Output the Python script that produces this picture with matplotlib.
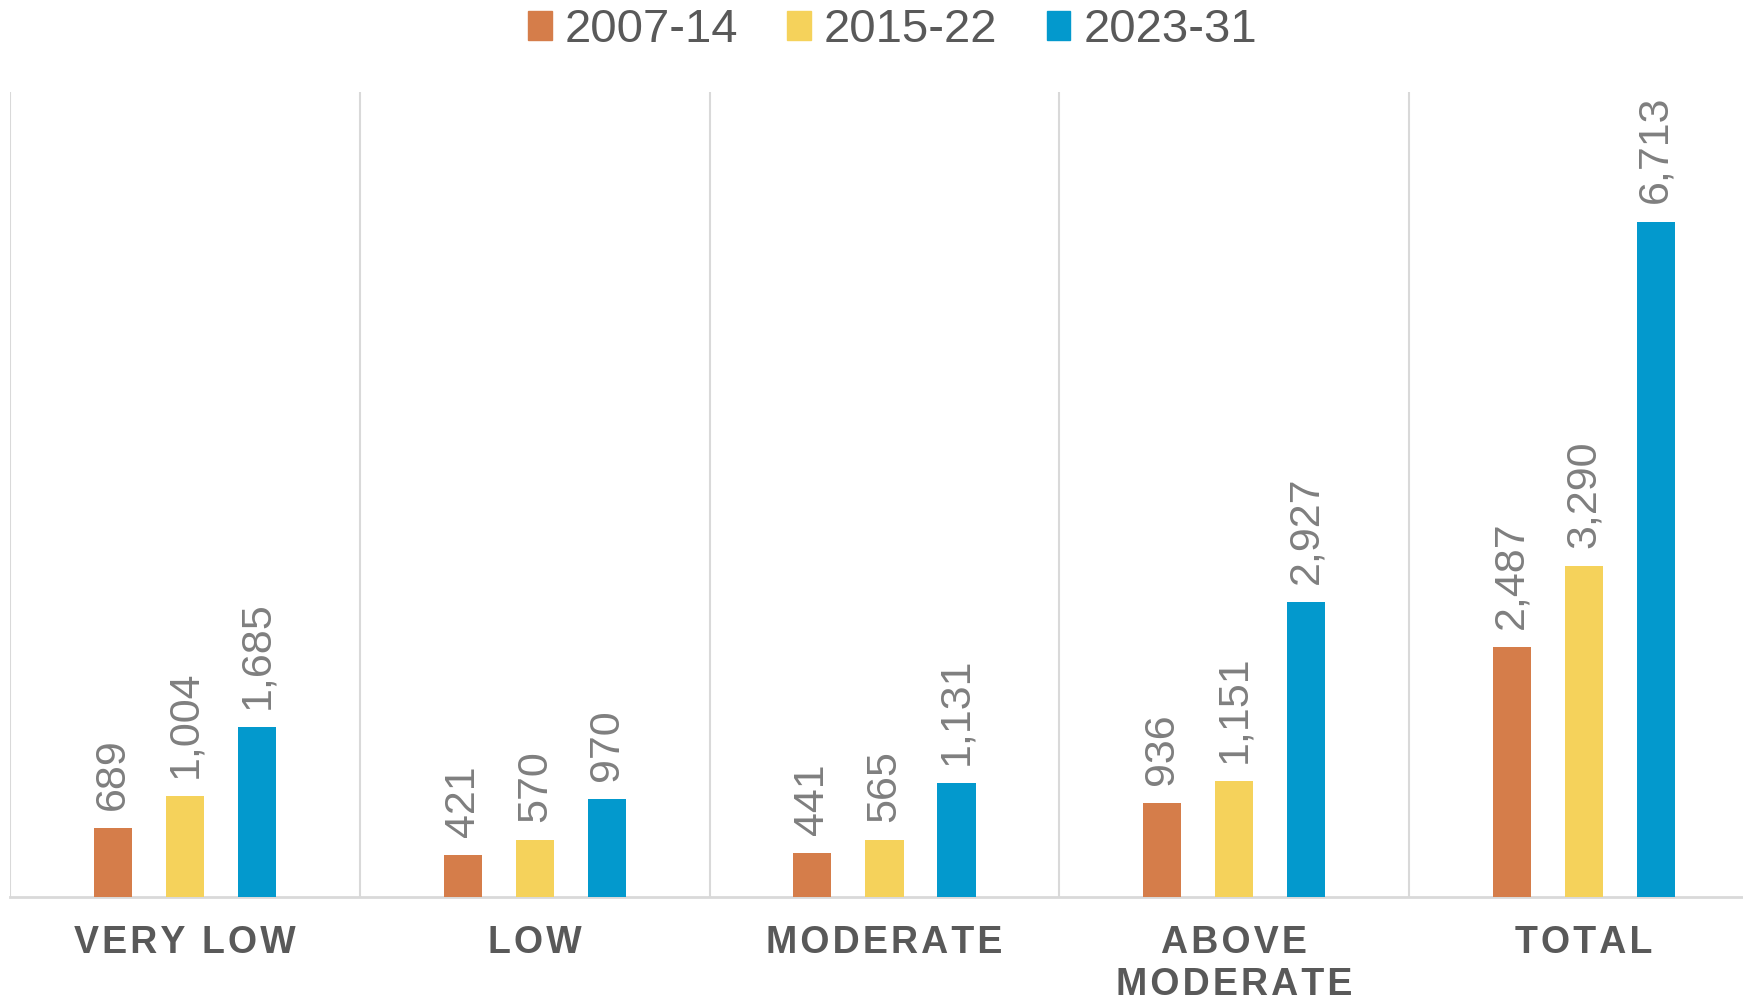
import numpy as np
import matplotlib.pyplot as plt
from matplotlib.patches import Patch

categories = ["VERY LOW", "LOW", "MODERATE", "ABOVE\nMODERATE", "TOTAL"]
series = ["2007-14", "2015-22", "2023-31"]
v_0714 = [689, 421, 441, 936, 2487]
v_1522 = [1004, 570, 565, 1151, 3290]
v_2331 = [1685, 970, 1131, 2927, 6713]

colors = ["#D57D4A", "#F5D25B", "#0399CD"]
grid_col = "#D9D9D9"
txt_col = "#595959"
lab_col = "#7F7F7F"

plt.rcParams['font.family'] = ['Liberation Sans', 'DejaVu Sans']

fig = plt.figure(figsize=(17.43, 10.02), dpi=100)
ax = fig.add_axes([10.3/1743, 105/1002, 1748.3/1743, 805/1002])

x = np.arange(len(categories))
w = 0.109
step = 0.206
for k, (vals, col) in enumerate(zip([v_0714, v_1522, v_2331], colors)):
    xs = x + (k - 1)*step
    ax.bar(xs, vals, width=w, color=col, zorder=3)
    for xi, v in zip(xs, vals):
        ax.annotate(f"{v:,}", (xi, v), xytext=(0, 13), textcoords="offset points",
                    rotation=90, ha="center", va="bottom", fontsize=31, color=lab_col)

ax.set_xlim(-0.5, len(categories) - 0.5)
ax.set_ylim(0, 8000)
for b in np.arange(-0.5, len(categories) - 0.5):
    ax.axvline(b, color=grid_col, lw=1.5, zorder=1)

for s in ["top", "right", "left"]:
    ax.spines[s].set_visible(False)
ax.spines["bottom"].set_color(grid_col)
ax.spines["bottom"].set_linewidth(2)
ax.set_yticks([])

# letter-spaced category labels
def spaced(s):
    return "\n".join("\u200a".join(line) for line in s.split("\n"))

ax.set_xticks(x)
ax.set_xticklabels([spaced(c) for c in categories], fontsize=27, fontweight="bold",
                   color=txt_col, linespacing=1.22)
ax.tick_params(axis="x", length=0, pad=20)

handles = [Patch(color=c) for c in colors]
fig.legend(handles, series, loc="center", bbox_to_anchor=(0.512, 0.97), ncol=3,
           frameon=False, fontsize=34, labelcolor=txt_col, handlelength=0.5,
           handleheight=0.57, handletextpad=0.27, columnspacing=1.05)

fig.savefig("out.png", dpi=100)
